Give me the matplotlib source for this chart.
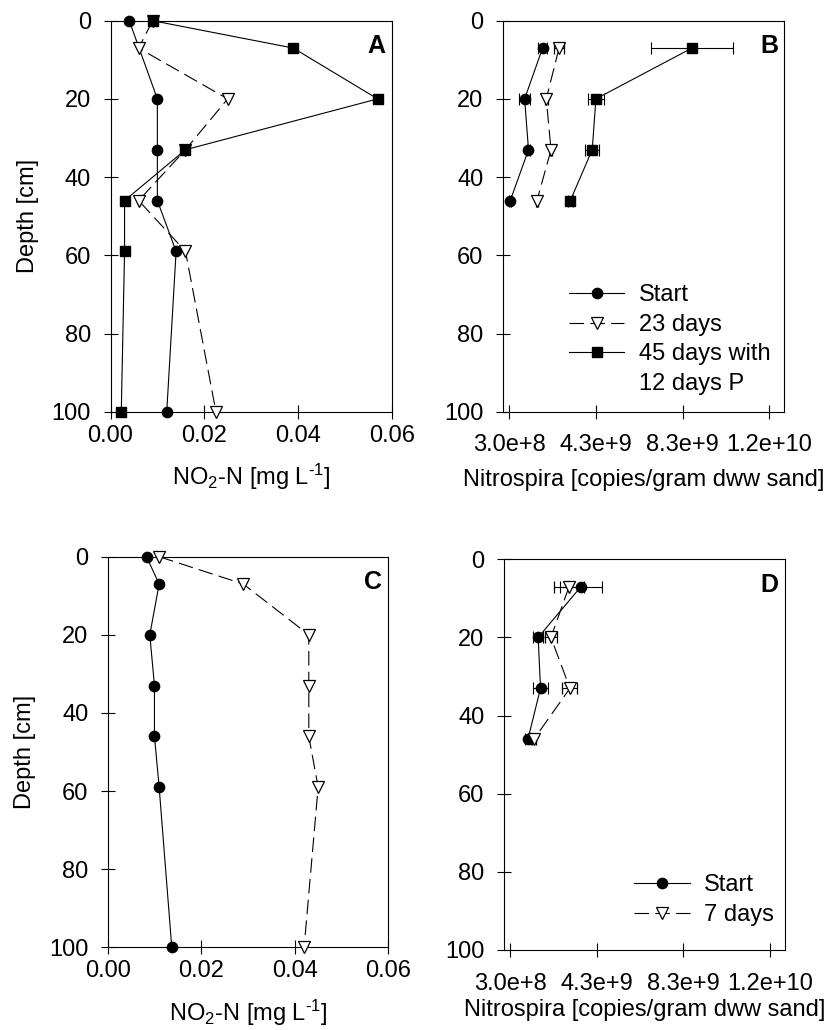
import matplotlib
matplotlib.use("Agg")
import matplotlib.pyplot as plt
from matplotlib.lines import Line2D

plt.rcParams['font.family'] = ['Liberation Sans', 'DejaVu Sans']
plt.rcParams['mathtext.default'] = 'regular'
plt.rcParams['lines.scale_dashes'] = False

# ---------------- Data ----------------
# Panel A: NO2-N [mg/L] vs depth
a_start_depth = [0, 20, 33, 46, 59, 100]
a_start_val = [0.004, 0.010, 0.010, 0.010, 0.014, 0.012]
a_23d_depth = [0, 7, 20, 33, 46, 59, 100]
a_23d_val = [0.009, 0.006, 0.025, 0.016, 0.006, 0.016, 0.0225]
a_45d_depth = [0, 7, 20, 33, 46, 59, 100]
a_45d_val = [0.009, 0.039, 0.057, 0.016, 0.003, 0.003, 0.0023]

# Panel B: Nitrospira copies vs depth
b_depth = [7, 20, 33, 46]
b_start_val = [1.84e9, 1.01e9, 1.19e9, 3.5e8]
b_start_err = [2.1e8, 2.5e8, 0.6e8, 0.5e8]
b_23d_val = [2.6e9, 2.01e9, 2.23e9, 1.58e9]
b_23d_err = [2.2e8, 0.8e8, 0.6e8, 0.5e8]
b_45d_val = [8.73e9, 4.3e9, 4.13e9, 3.12e9]
b_45d_err = [1.9e9, 3.8e8, 3.2e8, 1.2e8]

# Panel C: NO2-N [mg/L] vs depth
c_depth = [0, 7, 20, 33, 46, 59, 100]
c_start_val = [0.0083, 0.011, 0.009, 0.010, 0.010, 0.011, 0.0137]
c_7d_val = [0.011, 0.029, 0.043, 0.043, 0.043, 0.045, 0.042]

# Panel D: Nitrospira copies vs depth
d_depth = [7, 20, 33, 46]
d_start_val = [3.56e9, 1.58e9, 1.69e9, 1.11e9]
d_start_err = [9.7e8, 2.2e8, 3.5e8, 1.2e8]
d_7d_val = [3.01e9, 2.17e9, 3.05e9, 1.39e9]
d_7d_err = [6.9e8, 2.7e8, 3.5e8, 1.0e8]

no2_ticks = [0.0, 0.02, 0.04, 0.06]
no2_ticklabels = ["0.00", "0.02", "0.04", "0.06"]
nit_ticks = [3.0e8, 4.3e9, 8.3e9, 1.23e10]
nit_ticklabels = ["3.0e+8", "4.3e+9", "8.3e+9", "1.2e+10"]
depth_ticks = [0, 20, 40, 60, 80, 100]

# ---------------- Figure ----------------
W, H = 832, 1030
fig = plt.figure(figsize=(W / 100, H / 100), dpi=100)

def ax_px(l, r, t, b):
    return fig.add_axes([l / W, (H - b) / H, (r - l) / W, (b - t) / H])

axA = ax_px(110.5, 391.7, 20.7, 411.7)
axB = ax_px(502.7, 784.5, 20.7, 411.7)
axC = ax_px(107.7, 388.3, 556.7, 947.3)
axD = ax_px(504.0, 785.0, 559.3, 950.0)

FS = 17
LW = 0.8
DASH = (10.5, 4.5)
ms_c = 7.4
ms_s = 7.6
ms_t = 8.8

circ = dict(marker='o', color='black', mfc='black', mec='black', ms=ms_c, lw=LW)
tri = dict(marker='v', color='black', mfc='white', mec='black', ms=ms_t, lw=LW,
           mew=0.9, linestyle=(0, DASH))
sq = dict(marker='s', color='black', mfc='black', mec='black', ms=ms_s, lw=LW)

for ax in (axA, axB, axC, axD):
    ax.set_ylim(100, 0)
    ax.set_yticks(depth_ticks)
    ax.tick_params(axis='y', direction='inout', length=10, width=LW, pad=9, labelsize=FS)
    ax.tick_params(axis='x', direction='inout', length=9.5, width=LW, pad=4.5, labelsize=FS)
    for s in ax.spines.values():
        s.set_linewidth(LW)

for ax in (axA, axC):
    ax.set_xlim(0, 0.06)
    ax.set_xticks(no2_ticks)
    ax.set_xticklabels(no2_ticklabels)
    ax.set_xlabel('NO$_2$-N [mg L$^{\u20101}$]', fontsize=FS, labelpad=11)
    ax.set_ylabel('Depth [cm]', fontsize=FS, labelpad=9)

for ax, lp in ((axB, 9), (axD, 3)):
    ax.set_xlim(0, 1.3e10)
    ax.set_xticks(nit_ticks)
    ax.set_xticklabels(nit_ticklabels)
    ax.tick_params(axis='x', pad=11.5)
    ax.set_xlabel('Nitrospira [copies/gram dww sand]', fontsize=FS, labelpad=lp)

# Panel A
axA.plot(a_start_val, a_start_depth, clip_on=False, zorder=3, **circ)
axA.plot(a_23d_val, a_23d_depth, clip_on=False, zorder=4, **tri)
axA.plot(a_45d_val, a_45d_depth, clip_on=False, zorder=5, **sq)

# Panel B
ekw = dict(ecolor='black', elinewidth=LW, capsize=4, capthick=LW)
axB.errorbar(b_start_val, b_depth, xerr=b_start_err, zorder=3, **ekw, **circ)
axB.errorbar(b_23d_val, b_depth, xerr=b_23d_err, zorder=4, **ekw, **tri)
axB.errorbar(b_45d_val, b_depth, xerr=b_45d_err, zorder=5, **ekw, **sq)

# Panel C
axC.plot(c_start_val, c_depth, clip_on=False, zorder=3, **circ)
axC.plot(c_7d_val, c_depth, clip_on=False, zorder=4, **tri)

# Panel D
axD.errorbar(d_start_val, d_depth, xerr=d_start_err, zorder=3, **ekw, **circ)
axD.errorbar(d_7d_val, d_depth, xerr=d_7d_err, zorder=4, **ekw, **tri)

# Panel letters
for ax, letter in ((axA, 'A'), (axB, 'B'), (axC, 'C'), (axD, 'D')):
    ax.text(0.977, 0.935, letter, transform=ax.transAxes, ha='right', va='center',
            fontsize=18, fontweight='bold')

# Legends
def h(style):
    return Line2D([], [], **style)

blank = Line2D([], [], linestyle='none', marker=None)
legB = axB.legend([h(circ), h(tri), h(sq), blank],
                  ['Start', '23 days', '45 days with', '12 days P'],
                  loc='upper left', bbox_to_anchor=(0.235, 0.326), frameon=False,
                  fontsize=FS, handlelength=2.35, handletextpad=0.6,
                  labelspacing=0.32, borderpad=0, borderaxespad=0)

legD = axD.legend([h(circ), h(tri)], ['Start', '7 days'],
                  loc='upper left', bbox_to_anchor=(0.463, 0.195), frameon=False,
                  fontsize=FS, handlelength=2.35, handletextpad=0.6,
                  labelspacing=0.34, borderpad=0, borderaxespad=0)

fig.savefig('out.png', dpi=100)
